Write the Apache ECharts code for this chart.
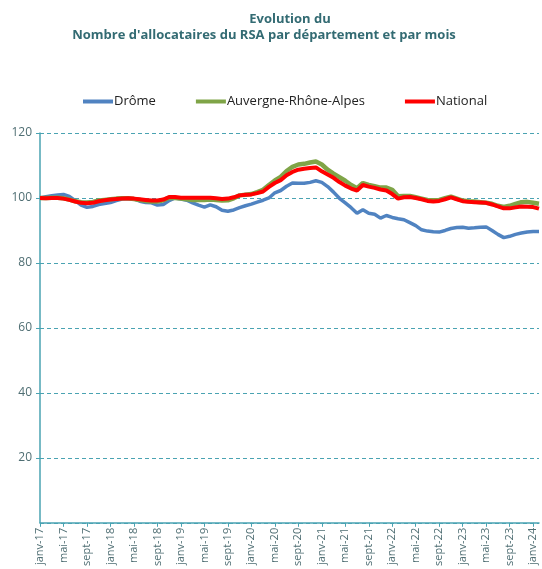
<!DOCTYPE html>
<html>
<head>
<meta charset="utf-8">
<script src="https://cdn.jsdelivr.net/npm/echarts@6/dist/echarts.min.js"></script>
<style>
  html, body { margin: 0; padding: 0; background: #fff; }
  #main { width: 542px; height: 569px; }
</style>
</head>
<body>
<div id="main"></div>
<script>
// mois de janv-17 à févr-24
var moisNoms = ['janv', 'févr', 'mars', 'avr', 'mai', 'juin', 'juil', 'août', 'sept', 'oct', 'nov', 'déc'];
var mois = [];
for (var a = 17; a <= 24; a++) {
  for (var m = 0; m < 12; m++) {
    if (a === 24 && m > 1) break;
    mois.push(moisNoms[m] + '-' + a);
  }
}

var drome = [
  100.0, 100.4, 100.7, 100.9, 101.1, 100.5, 99.2, 97.8, 97.1, 97.4, 98.0, 98.3,
  98.6, 99.2, 99.7, 99.8, 99.7, 99.0, 98.6, 98.5, 97.8, 98.0, 99.2, 100.0,
  99.7, 99.3, 98.5, 97.8, 97.2, 97.9, 97.3, 96.2, 95.9, 96.3, 97.0, 97.6,
  98.1, 98.7, 99.3, 100.0, 101.6, 102.3, 103.6, 104.6, 104.5, 104.5, 104.8, 105.3,
  104.8, 103.5, 101.8, 99.9, 98.5, 97.0, 95.3, 96.4, 95.3, 95.0, 93.8, 94.6,
  94.0, 93.6, 93.3, 92.4, 91.5, 90.2, 89.8, 89.6, 89.5, 90.0, 90.6, 90.9,
  91.0, 90.7, 90.8, 91.0, 91.1, 90.0, 88.8, 87.8, 88.2, 88.8, 89.2, 89.5,
  89.7, 89.7
];

var ara = [
  100.0, 100.0, 100.1, 100.1, 99.9, 99.5, 99.0, 98.7, 98.6, 98.8, 99.2, 99.4,
  99.6, 99.8, 99.9, 99.9, 99.7, 99.4, 99.1, 98.9, 98.9, 99.3, 100.1, 100.0,
  99.8, 99.6, 99.4, 99.4, 99.4, 99.5, 99.4, 99.2, 99.3, 99.9, 100.8, 101.0,
  101.2, 101.8, 102.5, 104.0, 105.4, 106.5, 108.3, 109.6, 110.3, 110.5, 110.9, 111.2,
  110.3, 108.7, 107.5, 106.4, 105.3, 104.0, 103.0, 104.6, 104.0, 103.6, 103.2, 103.2,
  102.5, 100.5, 100.6, 100.6, 100.2, 99.8, 99.4, 99.3, 99.4, 99.9, 100.4, 99.8,
  99.2, 99.0, 98.9, 98.7, 98.5, 98.2, 97.6, 97.2, 97.6, 98.2, 98.7, 98.8,
  98.5, 98.2
];

var national = [
  100.0, 99.9, 100.0, 100.0, 99.8, 99.4, 98.9, 98.5, 98.4, 98.5, 99.0, 99.3,
  99.5, 99.7, 99.8, 99.9, 99.8, 99.6, 99.4, 99.2, 99.2, 99.5, 100.3, 100.3,
  100.1, 100.1, 100.1, 100.1, 100.1, 100.1, 99.9, 99.7, 99.8, 100.2, 100.8, 101.0,
  101.1, 101.5, 102.0, 103.4, 104.6, 105.5, 107.0, 108.0, 108.7, 109.0, 109.2, 109.4,
  108.2, 107.2, 106.2, 104.9, 103.8, 102.9, 102.3, 104.0, 103.5, 103.1, 102.6, 102.3,
  101.2, 99.8, 100.2, 100.3, 100.0, 99.6, 99.1, 98.9, 99.1, 99.6, 100.2, 99.6,
  99.0, 98.8, 98.7, 98.6, 98.5, 98.0, 97.4, 96.8, 96.8, 97.1, 97.4, 97.3,
  97.2, 96.7
];

var axeCouleur = '#4AA3B2';
var texteCouleur = '#4F6E73';

var myChart = echarts.init(document.getElementById('main'));

var option = {
  animation: false,
  title: [
    {
      text: 'Evolution du',
      left: 285, top: 8,
      textAlign: 'center',
      textStyle: { color: '#336B73', fontSize: 13, fontWeight: 'bold', fontFamily: 'Open Sans' }
    },
    {
      text: "Nombre d'allocataires du RSA par département et par mois",
      left: 259, top: 24,
      textAlign: 'center',
      textStyle: { color: '#336B73', fontSize: 13, fontWeight: 'bold', fontFamily: 'Open Sans' }
    }
  ],
  legend: {
    top: 90,
    left: 78,
    itemGap: 40,
    itemWidth: 30,
    itemHeight: 4,
    icon: 'rect',
    textStyle: { color: '#222', fontSize: 13, fontFamily: 'Open Sans', padding: [0, 0, 0, -4] },
    data: ['Drôme', 'Auvergne-Rhône-Alpes', 'National']
  },
  grid: { left: 40, right: 3, top: 133, bottom: 44 },
  xAxis: {
    type: 'category',
    boundaryGap: false,
    data: mois,
    axisLine: { lineStyle: { color: axeCouleur, width: 1.5 } },
    axisTick: { interval: 3, length: 4, lineStyle: { color: axeCouleur } },
    axisLabel: {
      interval: 3, rotate: 90, color: texteCouleur,
      fontSize: 11, fontFamily: 'Open Sans', margin: 5
    }
  },
  yAxis: {
    type: 'value',
    min: 0, max: 120, interval: 20,
    axisLine: { show: true, lineStyle: { color: axeCouleur, width: 1.5 } },
    axisTick: { show: true, length: 4, lineStyle: { color: axeCouleur } },
    axisLabel: { showMinLabel: false, color: texteCouleur, fontSize: 12, fontFamily: 'Open Sans', margin: 8 },
    splitLine: { lineStyle: { color: axeCouleur, type: [4, 3], width: 1 } }
  },
  series: [
    {
      name: 'Drôme', type: 'line', data: drome, showSymbol: false,
      itemStyle: { color: '#5083C1' },
      lineStyle: { color: '#5083C1', width: 3.5 }
    },
    {
      name: 'Auvergne-Rhône-Alpes', type: 'line', data: ara, showSymbol: false,
      itemStyle: { color: '#7FA447' },
      lineStyle: { color: '#7FA447', width: 4.5 }
    },
    {
      name: 'National', type: 'line', data: national, showSymbol: false,
      itemStyle: { color: '#FF0000' },
      lineStyle: { color: '#FF0000', width: 4 }
    }
  ]
};

myChart.setOption(option);
</script>
</body>
</html>
